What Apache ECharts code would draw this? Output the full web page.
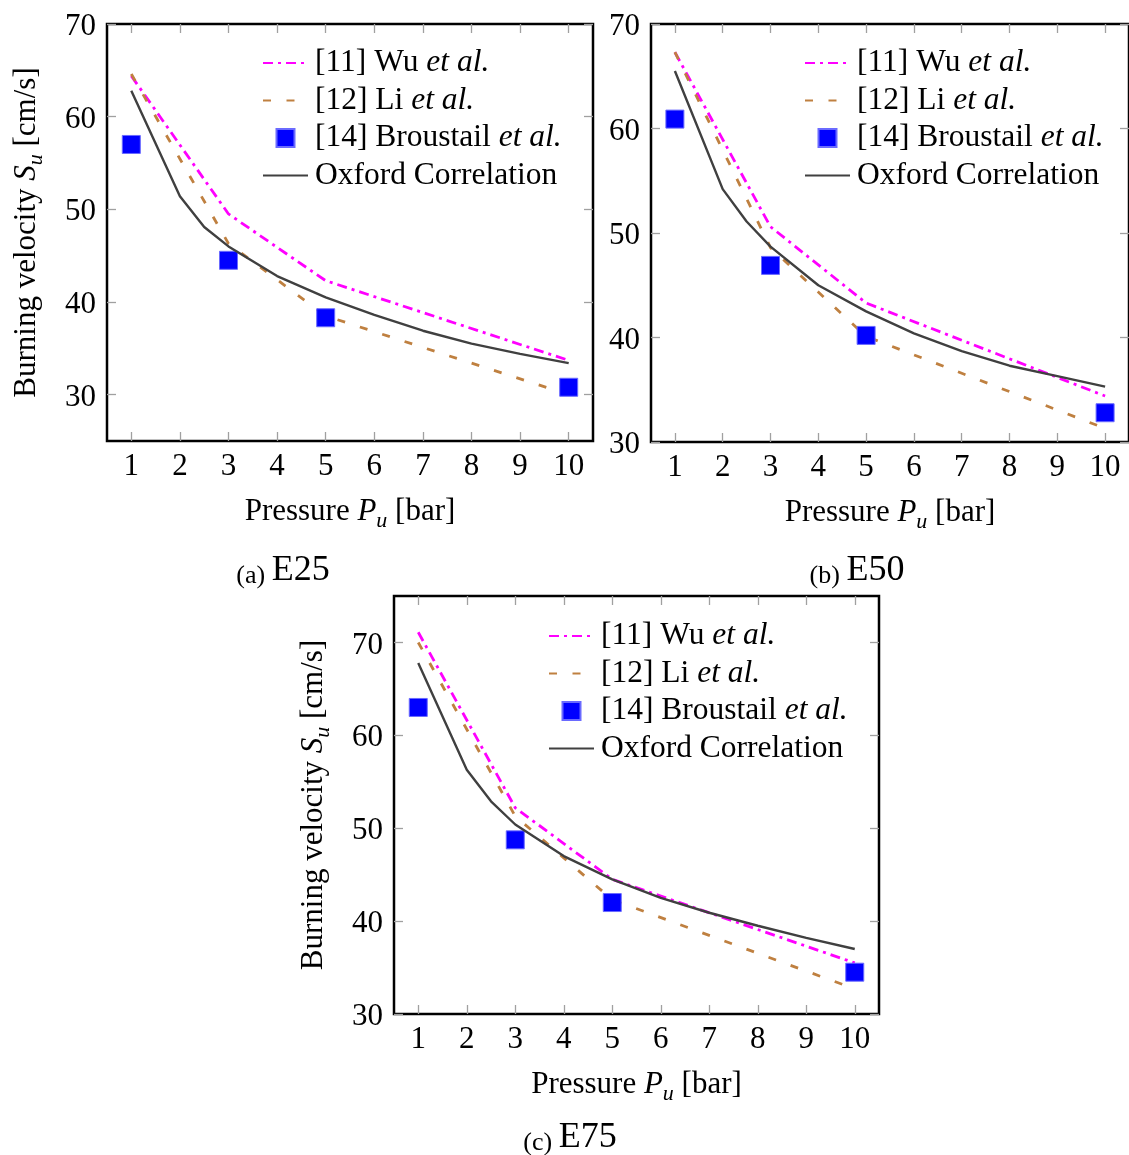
<!DOCTYPE html>
<html>
<head>
<meta charset="utf-8">
<script src="https://cdn.jsdelivr.net/npm/echarts@6/dist/echarts.min.js"></script>
<style>
html,body{margin:0;padding:0;background:#fff;}
#chart{width:1129px;height:1155px;}
</style>
</head>
<body>
<div id="chart"></div>
<script>
// ---------- data ----------
const seriesNames = ['[11] Wu et al.', '[12] Li et al.', '[14] Broustail et al.', 'Oxford Correlation'];
const panelLabels = ['(a)', '(b)', '(c)'];
const panelMixtures = ['E25', 'E50', 'E75'];

const pressureSparse = [1, 3, 5, 10];
const pressureDense = [1, 2, 2.5, 3, 4, 5, 6, 7, 8, 9, 10];
const xTickValues = [1, 2, 3, 4, 5, 6, 7, 8, 9, 10];

// E25
const e25Wu = [64.4, 49.5, 42.3, 33.7];
const e25Li = [64.6, 46.3, 38.5, 30.0];
const e25Broustail = [57.0, 44.5, 38.3, 30.8];
const e25Oxford = [62.8, 51.4, 48.1, 46.0, 42.8, 40.5, 38.6, 36.9, 35.5, 34.4, 33.4];
// E50
const e50Wu = [67.3, 50.6, 43.3, 34.4];
const e50Li = [67.3, 48.6, 40.1, 31.3];
const e50Broustail = [60.9, 46.9, 40.2, 32.8];
const e50Oxford = [65.5, 54.2, 51.1, 48.7, 45.0, 42.5, 40.4, 38.7, 37.3, 36.3, 35.3];
// E75
const e75Wu = [71.1, 52.2, 44.5, 35.5];
const e75Li = [70.0, 51.3, 42.3, 32.7];
const e75Broustail = [63.0, 48.75, 42.0, 34.5];
const e75Oxford = [67.8, 56.3, 52.9, 50.4, 47.0, 44.5, 42.5, 40.9, 39.5, 38.2, 37.0];

const yTicksA = [30, 40, 50, 60, 70];
const yTicksB = [30, 40, 50, 60, 70];
const yTicksC = [30, 40, 50, 60, 70];
const yRanges = [[25, 70], [30, 70], [30, 75]];
const xRange = [0.5, 10.5];

// ---------- layout / style ----------
const FONT = 'Liberation Serif';
const grids = [
  {left: 107, top: 24, width: 486, height: 417},
  {left: 651, top: 24, width: 486, height: 418},
  {left: 394, top: 596, width: 485, height: 418}
];
const legendPos = [
  {left: 262, top: 47},
  {left: 804, top: 47},
  {left: 548, top: 620}
];
const titlePos = [
  {left: 283, top: 551},
  {left: 857, top: 551},
  {left: 570, top: 1118}
];
const showYName = [true, false, true];

const panels = [
  {wu: e25Wu, li: e25Li, br: e25Broustail, ox: e25Oxford, yTicks: yTicksA},
  {wu: e50Wu, li: e50Li, br: e50Broustail, ox: e50Oxford, yTicks: yTicksB},
  {wu: e75Wu, li: e75Li, br: e75Broustail, ox: e75Oxford, yTicks: yTicksC}
];

const zip = (xs, ys) => xs.map((x, i) => [x, ys[i]]);

const axisRich = {
  n: {fontFamily: FONT, fontSize: 31, color: '#000', lineHeight: 40, verticalAlign: 'middle'},
  i: {fontFamily: FONT, fontSize: 31, color: '#000', fontStyle: 'italic', lineHeight: 40, verticalAlign: 'middle'},
  s: {fontFamily: FONT, fontSize: 22, color: '#000', fontStyle: 'italic', lineHeight: 40, verticalAlign: 'bottom'}
};
const legendRich = {
  n: {fontFamily: FONT, fontSize: 31.5, color: '#000', lineHeight: 31, padding: [0, 0, 0, 2]},
  i: {fontFamily: FONT, fontSize: 31.5, color: '#000', fontStyle: 'italic', lineHeight: 31}
};
const tickStyle = {color: '#a0a0a0', width: 1.3};
const tickLabel = {fontFamily: FONT, fontSize: 31, color: '#000'};
const yTickRich = {v: {fontFamily: FONT, fontSize: 31, color: '#000', lineHeight: 37, verticalAlign: 'bottom'}};

const grid = [], xAxis = [], yAxis = [], series = [], legend = [], title = [];

panels.forEach((p, k) => {
  grid.push(Object.assign({show: true, borderColor: '#000', borderWidth: 2.5, backgroundColor: '#fff'}, grids[k]));
  xAxis.push({
    type: 'value', gridIndex: k, min: xRange[0], max: xRange[1], position: 'bottom',
    axisLine: {show: false}, splitLine: {show: false},
    axisTick: {inside: true, length: 9, lineStyle: tickStyle, customValues: xTickValues},
    axisLabel: Object.assign({customValues: xTickValues, margin: 10}, tickLabel),
    name: '{n|Pressure }{i|P}{s|u}{n| [bar]}', nameLocation: 'middle', nameGap: 51,
    nameTextStyle: {rich: axisRich}
  });
  xAxis.push({
    type: 'value', gridIndex: k, min: xRange[0], max: xRange[1], position: 'top',
    axisLine: {show: false}, splitLine: {show: false},
    axisTick: {inside: true, length: 9, lineStyle: tickStyle, customValues: xTickValues},
    axisLabel: {show: false}
  });
  const yLeft = {
    type: 'value', gridIndex: k, min: yRanges[k][0], max: yRanges[k][1], position: 'left',
    axisLine: {show: false}, splitLine: {show: false},
    axisTick: {inside: true, length: 9, lineStyle: tickStyle, customValues: p.yTicks},
    axisLabel: {customValues: p.yTicks, margin: 11, formatter: '{v|{value}}', rich: yTickRich}
  };
  if (showYName[k]) {
    yLeft.name = '{n|Burning velocity }{i|S}{s|u}{n| [cm/s]}';
    yLeft.nameLocation = 'middle';
    yLeft.nameGap = 60;
    yLeft.nameTextStyle = {rich: axisRich};
  }
  yAxis.push(yLeft);
  yAxis.push({
    type: 'value', gridIndex: k, min: yRanges[k][0], max: yRanges[k][1], position: 'right',
    axisLine: {show: false}, splitLine: {show: false},
    axisTick: {inside: true, length: 9, lineStyle: tickStyle, customValues: p.yTicks},
    axisLabel: {show: false}
  });
  const xi = 2 * k, yi = 2 * k;
  series.push({
    name: seriesNames[0], type: 'line', xAxisIndex: xi, yAxisIndex: yi,
    data: zip(pressureSparse, p.wu), symbol: 'none',
    lineStyle: {color: '#ff00ff', width: 2.8, type: [10, 5, 3, 5]}, itemStyle: {color: '#ff00ff'}, z: 3
  });
  series.push({
    name: seriesNames[1], type: 'line', xAxisIndex: xi, yAxisIndex: yi,
    data: zip(pressureSparse, p.li), symbol: 'none',
    lineStyle: {color: '#bf8040', width: 2.8, type: [8, 15.5]}, itemStyle: {color: '#bf8040'}, z: 3
  });
  series.push({
    name: seriesNames[2], type: 'scatter', xAxisIndex: xi, yAxisIndex: yi,
    data: zip(pressureSparse, p.br), symbol: 'rect', symbolSize: 18,
    itemStyle: {color: '#0000ff', borderColor: '#6a6aff', borderWidth: 1, opacity: 1}, z: 4
  });
  series.push({
    name: seriesNames[3], type: 'line', xAxisIndex: xi, yAxisIndex: yi,
    data: zip(pressureDense, p.ox), symbol: 'none',
    lineStyle: {color: '#404040', width: 2.4, type: 'solid'}, itemStyle: {color: '#404040'}, z: 5
  });
  legend.push({
    orient: 'vertical', left: legendPos[k].left, top: legendPos[k].top,
    itemWidth: 45, itemHeight: 18, itemGap: 5.5, padding: 0,
    selectedMode: false,
    data: [
      {name: seriesNames[0], itemStyle: {opacity: 0}},
      {name: seriesNames[1], itemStyle: {opacity: 0}},
      {name: seriesNames[2], icon: 'path://M0,0H10V10H0Z'},
      {name: seriesNames[3], itemStyle: {opacity: 0}}
    ],
    formatter: name => name.endsWith('et al.')
      ? '{n|' + name.slice(0, -6) + '}{i|et al.}'
      : '{n|' + name + '}',
    textStyle: {rich: legendRich}
  });
  title.push({
    text: '{a|' + panelLabels[k] + ' }{b|' + panelMixtures[k] + '}',
    left: titlePos[k].left, top: titlePos[k].top, textAlign: 'center', padding: 0,
    textStyle: {
      fontWeight: 'normal',
      rich: {
        a: {fontFamily: FONT, fontSize: 26, fontWeight: 'normal', color: '#000', lineHeight: 38, verticalAlign: 'bottom'},
        b: {fontFamily: FONT, fontSize: 36, fontWeight: 'normal', color: '#000', lineHeight: 38, verticalAlign: 'bottom'}
      }
    }
  });
});

const chart = echarts.init(document.getElementById('chart'), null, {renderer: 'canvas'});
chart.setOption({
  backgroundColor: '#fff',
  animation: false,
  title, grid, xAxis, yAxis, series, legend
});
</script>
</body>
</html>
